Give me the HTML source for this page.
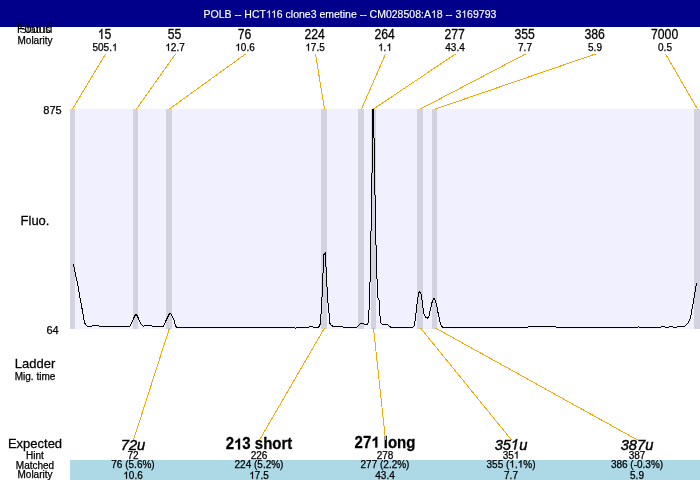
<!DOCTYPE html>
<html><head><meta charset="utf-8"><style>
html,body{margin:0;padding:0;background:#fff;overflow:hidden;}
svg{display:block;will-change:transform;}
.h1{fill-opacity:0;stroke-opacity:0;}
text{font-family:"Liberation Sans",sans-serif;stroke:#000;stroke-width:0.25px;}
</style></head><body>
<svg width="700" height="480" viewBox="0 0 700 480">
<defs><clipPath id="pc"><rect x="70" y="109" width="630" height="220"/></clipPath></defs>
<rect x="0" y="0" width="700" height="480" fill="#fff"/>
<rect x="0" y="0" width="700" height="27" fill="#00008b"/>
<text x="349.9" y="17.8" style="fill:#fff;stroke:#fff;stroke-width:0.15px" font-size="10.5" text-anchor="middle">POLB -- HCT<tspan class="h1">1</tspan><tspan class="h1">1</tspan>6 clone3 emetine -- CM028508:A<tspan class="h1">1</tspan>8 -- 3<tspan class="h1">1</tspan>69793</text>

<text transform="translate(34.6,32.6) scale(0.97,1.1)" font-size="13" text-anchor="middle" style="stroke-width:0">Found</text>
<text x="35" y="32.5" font-size="11" text-anchor="middle" style="stroke-width:0">Status</text>
<text x="35" y="43.5" font-size="10" text-anchor="middle">Molarity</text>
<rect x="70" y="109" width="630" height="220" fill="#f0f0ff"/>

<rect x="70" y="109" width="5" height="220" fill="#d2d2e0"/>
<rect x="133" y="109" width="5" height="220" fill="#d2d2e0"/>
<rect x="166" y="109" width="6" height="220" fill="#d2d2e0"/>
<rect x="321" y="109" width="6" height="220" fill="#d2d2e0"/>
<rect x="358" y="109" width="6" height="220" fill="#d2d2e0"/>
<rect x="371" y="109" width="5" height="220" fill="#d2d2e0"/>
<rect x="417" y="109" width="6" height="220" fill="#d2d2e0"/>
<rect x="432" y="109" width="5" height="220" fill="#d2d2e0"/>
<rect x="694" y="109" width="6" height="220" fill="#d2d2e0"/>
<g stroke="#ffa500" stroke-width="1" shape-rendering="crispEdges">
<line x1="105.5" y1="54" x2="72.5" y2="109"/>
<line x1="175.5" y1="54" x2="136.5" y2="109"/>
<line x1="245.5" y1="54" x2="169.5" y2="109"/>
<line x1="315.5" y1="54" x2="324.5" y2="109"/>
<line x1="385.5" y1="54" x2="361.5" y2="109"/>
<line x1="455.5" y1="54" x2="373.5" y2="109"/>
<line x1="525.5" y1="54" x2="420.5" y2="109"/>
<line x1="595.5" y1="54" x2="435.5" y2="109"/>
<line x1="665.5" y1="54" x2="697.5" y2="109"/>
</g>
<polyline clip-path="url(#pc)" points="73.5,264.5 78.5,288.5 80.5,300.5 83.5,316.5 84.5,322.5 85.5,324.5 87.5,326.5 91.5,326.5 92.5,325.5 98.5,325.5 99.5,326.5 129.5,326.5 131.5,323.5 133.5,318.5 135.5,314.5 136.5,314.5 138.5,318.5 140.5,323.5 143.5,326.5 144.5,325.5 151.5,325.5 152.5,326.5 163.5,326.5 165.5,321.5 167.5,317.5 169.5,313.5 170.5,313.5 173.5,318.5 175.5,325.5 176.5,327.5 294.5,327.5 295.5,328.5 296.5,327.5 308.5,327.5 309.5,326.5 312.5,326.5 313.5,327.5 318.5,327.5 320.5,323.5 320.5,314.5 321.5,313.5 321.5,297.5 322.5,296.5 322.5,273.5 323.5,272.5 323.5,255.5 324.5,253.5 325.5,252.5 325.5,266.5 326.5,267.5 326.5,286.5 327.5,287.5 327.5,302.5 328.5,303.5 328.5,312.5 329.5,313.5 329.5,322.5 330.5,324.5 331.5,325.5 333.5,326.5 342.5,326.5 343.5,327.5 356.5,327.5 358.5,325.5 360.5,323.5 363.5,323.5 364.5,324.5 367.5,324.5 368.5,321.5 368.5,310.5 369.5,309.5 369.5,282.5 370.5,281.5 370.5,231.5 371.5,230.5 371.5,173.5 372.5,172.5 372.5,60.5 373.5,60.5 373.5,137.5 374.5,138.5 374.5,194.5 375.5,195.5 375.5,244.5 376.5,245.5 376.5,278.5 377.5,279.5 377.5,297.5 378.5,298.5 378.5,299.5 379.5,300.5 379.5,315.5 380.5,316.5 380.5,322.5 382.5,324.5 387.5,324.5 389.5,326.5 391.5,327.5 411.7,328.0 414.0,326.0 415.3,319.5 416.4,309.5 417.2,302.0 418.1,296.0 418.8,293.0 419.7,291.5 420.8,292.9 421.8,298.5 422.7,305.8 424.0,314.0 425.4,317.2 427.3,318.2 428.9,316.8 430.0,311.3 431.4,304.8 432.6,300.3 434.1,298.5 435.5,301.2 436.9,306.7 438.3,314.0 439.7,320.5 441.0,325.0 442.9,327.8 443.5,327.5 527.5,327.5 528.5,326.5 555.5,326.5 556.5,327.5 637.5,327.5 638.5,326.5 639.5,327.5 660.5,327.5 661.5,326.5 664.5,326.5 665.5,327.5 668.5,327.5 669.5,326.5 672.5,326.5 673.5,327.5 676.5,327.5 677.5,326.5 684.5,326.5 686.5,324.5 688.5,322.5 690.5,317.5 691.5,312.5 692.5,306.5 694.5,295.5 696.5,283.5" fill="none" stroke="#000" stroke-width="1" shape-rendering="crispEdges"/>
<text transform="translate(104.6,39.1) scale(0.94,1.1)" font-size="13" text-anchor="middle"><tspan class="h1">1</tspan>5</text>
<text x="105" y="50.8" font-size="10" text-anchor="middle">505.<tspan class="h1">1</tspan></text>
<text transform="translate(174.6,39.1) scale(0.94,1.1)" font-size="13" text-anchor="middle">55</text>
<text x="175" y="50.8" font-size="10" text-anchor="middle"><tspan class="h1">1</tspan>2.7</text>
<text transform="translate(244.6,39.1) scale(0.94,1.1)" font-size="13" text-anchor="middle">76</text>
<text x="245" y="50.8" font-size="10" text-anchor="middle"><tspan class="h1">1</tspan>0.6</text>
<text transform="translate(314.6,39.1) scale(0.94,1.1)" font-size="13" text-anchor="middle">224</text>
<text x="315" y="50.8" font-size="10" text-anchor="middle"><tspan class="h1">1</tspan>7.5</text>
<text transform="translate(384.6,39.1) scale(0.94,1.1)" font-size="13" text-anchor="middle">264</text>
<text x="385" y="50.8" font-size="10" text-anchor="middle"><tspan class="h1">1</tspan>.<tspan class="h1">1</tspan></text>
<text transform="translate(454.6,39.1) scale(0.94,1.1)" font-size="13" text-anchor="middle">277</text>
<text x="455" y="50.8" font-size="10" text-anchor="middle">43.4</text>
<text transform="translate(524.6,39.1) scale(0.94,1.1)" font-size="13" text-anchor="middle">355</text>
<text x="525" y="50.8" font-size="10" text-anchor="middle">7.7</text>
<text transform="translate(594.6,39.1) scale(0.94,1.1)" font-size="13" text-anchor="middle">386</text>
<text x="595" y="50.8" font-size="10" text-anchor="middle">5.9</text>
<text transform="translate(664.6,39.1) scale(0.94,1.1)" font-size="13" text-anchor="middle">7000</text>
<text x="665" y="50.8" font-size="10" text-anchor="middle">0.5</text>
<text x="52.5" y="114" font-size="11" text-anchor="middle">875</text>
<text x="52.5" y="334" font-size="11" text-anchor="middle">64</text>
<text transform="translate(35,224.6) scale(1.0,1.05)" font-size="13" text-anchor="middle">Fluo.</text>
<text transform="translate(35,368) scale(1.0,1.05)" font-size="13" text-anchor="middle">Ladder</text>
<text x="35" y="379.6" font-size="10" text-anchor="middle">Mig. time</text>
<rect x="70" y="460" width="630" height="20" fill="#add8e6"/>
<text transform="translate(35,447.8) scale(1.0,1.05)" font-size="13" text-anchor="middle">Expected</text>
<text x="35" y="458.8" font-size="10" text-anchor="middle">Hint</text>
<text x="35" y="468.5" font-size="10" text-anchor="middle">Matched</text>
<text x="35" y="477.5" font-size="10" text-anchor="middle">Molarity</text>
<text transform="translate(133,449.6) scale(0.98,1.03)" font-size="15" text-anchor="middle" font-style="italic" style="stroke-width:0.45px">72u</text>
<text x="133" y="458.5" font-size="10" text-anchor="middle">72</text>
<text x="133" y="467.5" font-size="10" text-anchor="middle">76 (5.6%)</text>
<text x="133" y="478.8" font-size="10" text-anchor="middle"><tspan class="h1">1</tspan>0.6</text>
<text transform="translate(259,449.4) scale(1.0,1.05)" font-size="15" text-anchor="middle" font-weight="bold">2<tspan class="h1">1</tspan>3 short</text>
<text x="259" y="458.5" font-size="10" text-anchor="middle">226</text>
<text x="259" y="467.5" font-size="10" text-anchor="middle">224 (5.2%)</text>
<text x="259" y="478.8" font-size="10" text-anchor="middle"><tspan class="h1">1</tspan>7.5</text>
<text transform="translate(385,447.5) scale(1.0,1.05)" font-size="15" text-anchor="middle" font-weight="bold">27<tspan class="h1">1</tspan> long</text>
<text x="385" y="458.5" font-size="10" text-anchor="middle">278</text>
<text x="385" y="467.5" font-size="10" text-anchor="middle">277 (2.2%)</text>
<text x="385" y="478.8" font-size="10" text-anchor="middle">43.4</text>
<text transform="translate(511,449.6) scale(0.98,1.03)" font-size="15" text-anchor="middle" font-style="italic" style="stroke-width:0.45px">35<tspan class="h1">1</tspan>u</text>
<text x="511" y="458.5" font-size="10" text-anchor="middle">35<tspan class="h1">1</tspan></text>
<text x="511" y="467.5" font-size="10" text-anchor="middle">355 (<tspan class="h1">1</tspan>.<tspan class="h1">1</tspan>%)</text>
<text x="511" y="478.8" font-size="10" text-anchor="middle">7.7</text>
<text transform="translate(637,449.6) scale(0.98,1.03)" font-size="15" text-anchor="middle" font-style="italic" style="stroke-width:0.45px">387u</text>
<text x="637" y="458.5" font-size="10" text-anchor="middle">387</text>
<text x="637" y="467.5" font-size="10" text-anchor="middle">386 (-0.3%)</text>
<text x="637" y="478.8" font-size="10" text-anchor="middle">5.9</text>
<g stroke="#ffa500" stroke-width="1" shape-rendering="crispEdges">
<line x1="169.5" y1="328" x2="133.5" y2="440"/>
<line x1="324.5" y1="328" x2="259.5" y2="440"/>
<line x1="373.5" y1="328" x2="385.5" y2="440"/>
<line x1="420.5" y1="328" x2="511.5" y2="440"/>
<line x1="435.5" y1="328" x2="637.5" y2="440"/>
</g>
<path d="M 763 0 L 583 0 L 583 1147 Q 518 1085 412 1023 Q 306 961 222 930 L 222 1104 Q 373 1175 486 1276 Q 599 1377 646 1472 L 763 1472 Z" transform="translate(265.908,17.800) scale(0.005127,-0.005127)" fill="rgb(255, 255, 255)" stroke="rgb(255, 255, 255)" stroke-width="29.257"/>
<path d="M 763 0 L 583 0 L 583 1147 Q 518 1085 412 1023 Q 306 961 222 930 L 222 1104 Q 373 1175 486 1276 Q 599 1377 646 1472 L 763 1472 Z" transform="translate(270.970,17.800) scale(0.005127,-0.005127)" fill="rgb(255, 255, 255)" stroke="rgb(255, 255, 255)" stroke-width="29.257"/>
<path d="M 763 0 L 583 0 L 583 1147 Q 518 1085 412 1023 Q 306 961 222 930 L 222 1104 Q 373 1175 486 1276 Q 599 1377 646 1472 L 763 1472 Z" transform="translate(430.908,17.800) scale(0.005127,-0.005127)" fill="rgb(255, 255, 255)" stroke="rgb(255, 255, 255)" stroke-width="29.257"/>
<path d="M 763 0 L 583 0 L 583 1147 Q 518 1085 412 1023 Q 306 961 222 930 L 222 1104 Q 373 1175 486 1276 Q 599 1377 646 1472 L 763 1472 Z" transform="translate(461.267,17.800) scale(0.005127,-0.005127)" fill="rgb(255, 255, 255)" stroke="rgb(255, 255, 255)" stroke-width="29.257"/>
<g transform="translate(104.6,39.1) scale(0.94,1.1)"><path d="M 763 0 L 583 0 L 583 1147 Q 518 1085 412 1023 Q 306 961 222 930 L 222 1104 Q 373 1175 486 1276 Q 599 1377 646 1472 L 763 1472 Z" transform="translate(-7.239,0.000) scale(0.006348,-0.006348)" fill="rgb(0, 0, 0)" stroke="rgb(0, 0, 0)" stroke-width="39.385"/></g>
<path d="M 763 0 L 583 0 L 583 1147 Q 518 1085 412 1023 Q 306 961 222 930 L 222 1104 Q 373 1175 486 1276 Q 599 1377 646 1472 L 763 1472 Z" transform="translate(111.953,50.800) scale(0.004883,-0.004883)" fill="rgb(0, 0, 0)" stroke="rgb(0, 0, 0)" stroke-width="51.200"/>
<path d="M 763 0 L 583 0 L 583 1147 Q 518 1085 412 1023 Q 306 961 222 930 L 222 1104 Q 373 1175 486 1276 Q 599 1377 646 1472 L 763 1472 Z" transform="translate(165.266,50.800) scale(0.004883,-0.004883)" fill="rgb(0, 0, 0)" stroke="rgb(0, 0, 0)" stroke-width="51.200"/>
<path d="M 763 0 L 583 0 L 583 1147 Q 518 1085 412 1023 Q 306 961 222 930 L 222 1104 Q 373 1175 486 1276 Q 599 1377 646 1472 L 763 1472 Z" transform="translate(235.266,50.800) scale(0.004883,-0.004883)" fill="rgb(0, 0, 0)" stroke="rgb(0, 0, 0)" stroke-width="51.200"/>
<path d="M 763 0 L 583 0 L 583 1147 Q 518 1085 412 1023 Q 306 961 222 930 L 222 1104 Q 373 1175 486 1276 Q 599 1377 646 1472 L 763 1472 Z" transform="translate(305.266,50.800) scale(0.004883,-0.004883)" fill="rgb(0, 0, 0)" stroke="rgb(0, 0, 0)" stroke-width="51.200"/>
<path d="M 763 0 L 583 0 L 583 1147 Q 518 1085 412 1023 Q 306 961 222 930 L 222 1104 Q 373 1175 486 1276 Q 599 1377 646 1472 L 763 1472 Z" transform="translate(378.047,50.800) scale(0.004883,-0.004883)" fill="rgb(0, 0, 0)" stroke="rgb(0, 0, 0)" stroke-width="51.200"/>
<path d="M 763 0 L 583 0 L 583 1147 Q 518 1085 412 1023 Q 306 961 222 930 L 222 1104 Q 373 1175 486 1276 Q 599 1377 646 1472 L 763 1472 Z" transform="translate(386.391,50.800) scale(0.004883,-0.004883)" fill="rgb(0, 0, 0)" stroke="rgb(0, 0, 0)" stroke-width="51.200"/>
<path d="M 763 0 L 583 0 L 583 1147 Q 518 1085 412 1023 Q 306 961 222 930 L 222 1104 Q 373 1175 486 1276 Q 599 1377 646 1472 L 763 1472 Z" transform="translate(123.266,478.800) scale(0.004883,-0.004883)" fill="rgb(0, 0, 0)" stroke="rgb(0, 0, 0)" stroke-width="51.200"/>
<g transform="translate(259,449.4) scale(1.0,1.05)"><path d="M 826 0 L 545 0 L 545 1059 Q 391 915 182 846 L 182 1101 Q 292 1137 421 1237 Q 550 1337 598 1472 L 826 1472 Z" transform="translate(-24.977,0.000) scale(0.007324,-0.007011)" fill="rgb(0, 0, 0)" stroke="rgb(0, 0, 0)" stroke-width="34.133"/></g>
<path d="M 763 0 L 583 0 L 583 1147 Q 518 1085 412 1023 Q 306 961 222 930 L 222 1104 Q 373 1175 486 1276 Q 599 1377 646 1472 L 763 1472 Z" transform="translate(249.266,478.800) scale(0.004883,-0.004883)" fill="rgb(0, 0, 0)" stroke="rgb(0, 0, 0)" stroke-width="51.200"/>
<g transform="translate(385,447.5) scale(1.0,1.05)"><path d="M 826 0 L 545 0 L 545 1059 Q 391 915 182 846 L 182 1101 Q 292 1137 421 1237 Q 550 1337 598 1472 L 826 1472 Z" transform="translate(-13.723,0.000) scale(0.007324,-0.007011)" fill="rgb(0, 0, 0)" stroke="rgb(0, 0, 0)" stroke-width="34.133"/></g>
<g transform="translate(511,449.6) scale(0.98,1.03)"><path d="M 600 0 L 420 0 L 643 1147 Q 566 1085 448 1023 Q 330 961 240 930 L 274 1104 Q 439 1175 572 1276 Q 705 1377 770 1472 L 887 1472 Z" transform="translate(-0.008,0.000) scale(0.007324,-0.007011)" fill="rgb(0, 0, 0)" stroke="rgb(0, 0, 0)" stroke-width="61.440"/></g>
<path d="M 763 0 L 583 0 L 583 1147 Q 518 1085 412 1023 Q 306 961 222 930 L 222 1104 Q 373 1175 486 1276 Q 599 1377 646 1472 L 763 1472 Z" transform="translate(513.781,458.500) scale(0.004883,-0.004883)" fill="rgb(0, 0, 0)" stroke="rgb(0, 0, 0)" stroke-width="51.200"/>
<path d="M 763 0 L 583 0 L 583 1147 Q 518 1085 412 1023 Q 306 961 222 930 L 222 1104 Q 373 1175 486 1276 Q 599 1377 646 1472 L 763 1472 Z" transform="translate(509.328,467.500) scale(0.004883,-0.004883)" fill="rgb(0, 0, 0)" stroke="rgb(0, 0, 0)" stroke-width="51.200"/>
<path d="M 763 0 L 583 0 L 583 1147 Q 518 1085 412 1023 Q 306 961 222 930 L 222 1104 Q 373 1175 486 1276 Q 599 1377 646 1472 L 763 1472 Z" transform="translate(517.672,467.500) scale(0.004883,-0.004883)" fill="rgb(0, 0, 0)" stroke="rgb(0, 0, 0)" stroke-width="51.200"/>
</svg></body></html>
